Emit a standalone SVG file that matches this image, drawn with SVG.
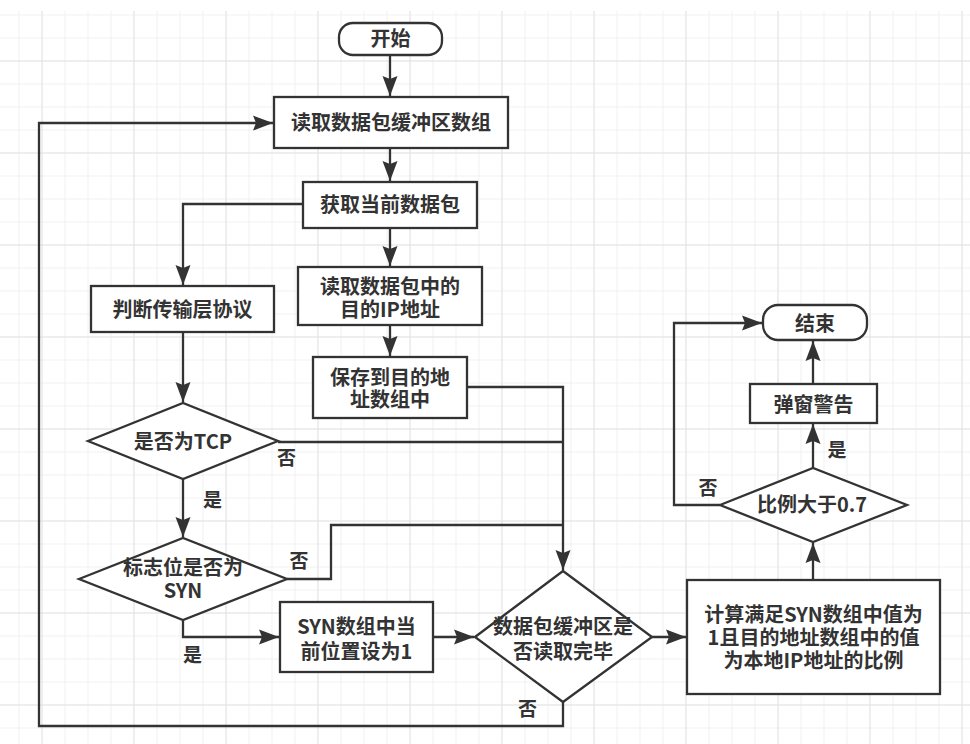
<svg xmlns="http://www.w3.org/2000/svg" width="970" height="744" viewBox="0 0 970 744">
<style>
.n{fill:#fff;stroke:#333;stroke-width:2.3}
.e{fill:none;stroke:#333;stroke-width:2.3}
text{font-family:"Noto Sans CJK SC","Microsoft YaHei",sans-serif;font-weight:bold;font-size:20px;fill:#333;text-anchor:middle}
.l{font-size:19px}
</style>
<defs>
<pattern id="minor" patternUnits="userSpaceOnUse" x="18.5" y="14.5" width="23" height="23">
<path d="M0.5 0V23M0 0.5H23" stroke="#f0f0f0" stroke-width="1" fill="none"/>
</pattern>
<pattern id="major" patternUnits="userSpaceOnUse" x="41.5" y="60.5" width="92" height="92">
<path d="M0.5 0V92M0 0.5H92" stroke="#e4e4e4" stroke-width="1" fill="none"/>
</pattern>
<marker id="a" markerUnits="userSpaceOnUse" markerWidth="21" markerHeight="16" refX="20" refY="8" orient="auto">
<path d="M0,0.5 L20,8 L0,15.5 L3,8 Z" fill="#333"/>
</marker>
</defs>
<rect width="970" height="744" fill="#fff"/>
<rect x="0" y="11" width="970" height="733" fill="url(#minor)"/>
<rect x="0" y="11" width="970" height="733" fill="url(#major)"/>

<g id="connectors">
<path class="e" d="M390 55V96" marker-end="url(#a)"/>
<path class="e" d="M390 148V181" marker-end="url(#a)"/>
<path class="e" d="M303 204H183V285" marker-end="url(#a)"/>
<path class="e" d="M390 228V266" marker-end="url(#a)"/>
<path class="e" d="M390 325V356" marker-end="url(#a)"/>
<path class="e" d="M183 332V402" marker-end="url(#a)"/>
<path class="e" d="M183 479V537" marker-end="url(#a)"/>
<path class="e" d="M467 387H563V570" marker-end="url(#a)"/>
<path class="e" d="M278 442H563"/>
<path class="e" d="M287 579H331V525H563"/>
<path class="e" d="M183 620V637H279" marker-end="url(#a)"/>
<path class="e" d="M433 637H474" marker-end="url(#a)"/>
<path class="e" d="M563 702V726H39V123H273" marker-end="url(#a)"/>
<path class="e" d="M652 637H686" marker-end="url(#a)"/>
<path class="e" d="M813 580V543" marker-end="url(#a)"/>
<path class="e" d="M813 468V424" marker-end="url(#a)"/>
<path class="e" d="M813 384V341" marker-end="url(#a)"/>
<path class="e" d="M720 505H674V323H762" marker-end="url(#a)"/>
<text class="l" x="286.5" y="465">否</text>
<text class="l" x="212.5" y="507">是</text>
<text class="l" x="299" y="568">否</text>
<text class="l" x="192.5" y="662">是</text>
<text class="l" x="527.5" y="716">否</text>
<text class="l" x="837" y="457">是</text>
<text class="l" x="708" y="495">否</text>
</g>

<g id="start"><rect class="n" x="339" y="23" width="103" height="32" rx="14"/><text x="390.5" y="46">开始</text></g>
<g id="readBuffer"><rect class="n" x="274" y="97" width="234" height="51"/><text x="391" y="130">读取数据包缓冲区数组</text></g>
<g id="getPacket"><rect class="n" x="303" y="182" width="174" height="46"/><text x="390" y="212">获取当前数据包</text></g>
<g id="judgeProtocol"><rect class="n" x="91" y="286" width="183" height="46"/><text x="182.5" y="317">判断传输层协议</text></g>
<g id="readIP"><rect class="n" x="298" y="267" width="184" height="58"/><text x="390" y="294">读取数据包中的<tspan x="390" y="317">目的IP地址</tspan></text></g>
<g id="saveDest"><rect class="n" x="313" y="357" width="154" height="61"/><text x="390" y="385">保存到目的地<tspan x="390" y="407">址数组中</tspan></text></g>
<g id="isTCP"><polygon class="n" points="88,441 183,403 278,441 183,479"/><text x="183" y="449">是否为TCP</text></g>
<g id="isSYN"><polygon class="n" points="79,579 183,538 287,579 183,620"/><text x="183" y="575">标志位是否为<tspan x="183" y="598">SYN</tspan></text></g>
<g id="setSYN"><rect class="n" x="280" y="602" width="153" height="70"/><text x="356.5" y="634">SYN数组中当<tspan x="356.5" y="659">前位置设为1</tspan></text></g>
<g id="bufferDone"><polygon class="n" points="475,637 563,571 652,637 563,702"/><text x="563" y="634">数据包缓冲区是<tspan x="563" y="659">否读取完毕</tspan></text></g>
<g id="calcRatio"><rect class="n" x="687" y="580" width="253" height="114"/><text x="813.5" y="622">计算满足SYN数组中值为<tspan x="813.5" y="645">1且目的地址数组中的值</tspan><tspan x="813.5" y="668">为本地IP地址的比例</tspan></text></g>
<g id="ratioCheck"><polygon class="n" points="720,505 813,468 907,505 813,542"/><text x="812" y="512">比例大于0.7</text></g>
<g id="alert"><rect class="n" x="750" y="384" width="127" height="39"/><text x="813.5" y="412">弹窗警告</text></g>
<g id="end"><rect class="n" x="763" y="305" width="104" height="35" rx="15"/><text x="815" y="331">结束</text></g>
</svg>
